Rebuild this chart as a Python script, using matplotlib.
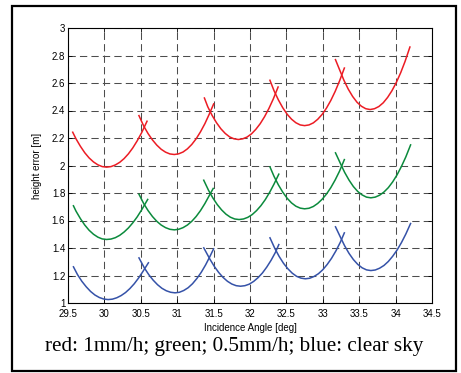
import matplotlib
matplotlib.use("Agg")
import matplotlib.pyplot as plt
from matplotlib.patches import Rectangle

# x positions of each arc (five arcs per colour)
red_x = [
    [29.56, 29.61, 29.67, 29.73, 29.79, 29.85, 29.91, 29.97, 30.03, 30.09, 30.15, 30.21, 30.27, 30.33, 30.39, 30.45, 30.51, 30.59],
    [30.47, 30.54, 30.60, 30.66, 30.72, 30.78, 30.84, 30.90, 30.96, 31.02, 31.08, 31.14, 31.20, 31.26, 31.32, 31.38, 31.44, 31.505],
    [31.37, 31.42, 31.48, 31.54, 31.60, 31.66, 31.72, 31.78, 31.84, 31.90, 31.96, 32.02, 32.08, 32.14, 32.20, 32.26, 32.32, 32.39],
    [32.27, 32.33, 32.39, 32.45, 32.51, 32.57, 32.63, 32.69, 32.75, 32.81, 32.87, 32.93, 32.99, 33.05, 33.11, 33.17, 33.23, 33.30],
    [33.17, 33.23, 33.29, 33.35, 33.41, 33.47, 33.53, 33.59, 33.65, 33.71, 33.77, 33.83, 33.89, 33.95, 34.01, 34.07, 34.13, 34.20],
]
red_y = [
    [2.247, 2.194, 2.140, 2.093, 2.055, 2.026, 2.005, 1.992, 1.988, 1.992, 2.004, 2.023, 2.050, 2.085, 2.128, 2.179, 2.237, 2.327],
    [2.368, 2.287, 2.232, 2.186, 2.148, 2.118, 2.097, 2.084, 2.080, 2.085, 2.098, 2.121, 2.153, 2.194, 2.245, 2.304, 2.373, 2.453],
    [2.496, 2.427, 2.364, 2.311, 2.267, 2.233, 2.208, 2.194, 2.189, 2.194, 2.207, 2.230, 2.263, 2.304, 2.355, 2.415, 2.484, 2.576],
    [2.625, 2.544, 2.477, 2.420, 2.373, 2.337, 2.311, 2.295, 2.290, 2.295, 2.310, 2.336, 2.371, 2.417, 2.473, 2.539, 2.615, 2.714],
    [2.775, 2.697, 2.620, 2.555, 2.502, 2.460, 2.431, 2.413, 2.407, 2.413, 2.429, 2.456, 2.495, 2.544, 2.604, 2.675, 2.757, 2.867],
]

green_x = [
    [29.57, 29.61, 29.67, 29.73, 29.79, 29.85, 29.91, 29.97, 30.03, 30.09, 30.15, 30.21, 30.27, 30.33, 30.39, 30.45, 30.51, 30.60],
    [30.47, 30.54, 30.60, 30.66, 30.72, 30.78, 30.84, 30.90, 30.96, 31.02, 31.08, 31.14, 31.20, 31.26, 31.32, 31.38, 31.44, 31.50],
    [31.36, 31.43, 31.49, 31.55, 31.61, 31.67, 31.73, 31.79, 31.85, 31.91, 31.97, 32.03, 32.09, 32.15, 32.21, 32.27, 32.33, 32.40],
    [32.27, 32.33, 32.39, 32.45, 32.51, 32.57, 32.63, 32.69, 32.75, 32.81, 32.87, 32.93, 32.99, 33.05, 33.11, 33.17, 33.23, 33.30],
    [33.17, 33.24, 33.30, 33.36, 33.42, 33.48, 33.54, 33.60, 33.66, 33.72, 33.78, 33.84, 33.90, 33.96, 34.02, 34.08, 34.14, 34.21],
]
green_y = [
    [1.712, 1.668, 1.614, 1.567, 1.529, 1.500, 1.479, 1.466, 1.462, 1.465, 1.475, 1.492, 1.516, 1.546, 1.583, 1.626, 1.676, 1.758],
    [1.796, 1.723, 1.672, 1.629, 1.594, 1.567, 1.548, 1.536, 1.532, 1.536, 1.548, 1.567, 1.594, 1.629, 1.672, 1.723, 1.781, 1.838],
    [1.898, 1.820, 1.764, 1.716, 1.677, 1.646, 1.624, 1.611, 1.607, 1.611, 1.623, 1.643, 1.672, 1.708, 1.752, 1.805, 1.865, 1.942],
    [1.995, 1.921, 1.859, 1.806, 1.762, 1.728, 1.704, 1.690, 1.685, 1.689, 1.702, 1.724, 1.754, 1.792, 1.839, 1.895, 1.959, 2.048],
    [2.097, 2.017, 1.950, 1.894, 1.847, 1.811, 1.786, 1.770, 1.765, 1.770, 1.784, 1.807, 1.839, 1.881, 1.932, 1.993, 2.062, 2.155],
]

blue_x = [
    [29.57, 29.63, 29.69, 29.75, 29.81, 29.87, 29.93, 29.99, 30.05, 30.11, 30.17, 30.23, 30.29, 30.35, 30.41, 30.47, 30.53, 30.61],
    [30.47, 30.55, 30.61, 30.67, 30.73, 30.79, 30.85, 30.91, 30.97, 31.03, 31.09, 31.15, 31.21, 31.27, 31.33, 31.39, 31.45, 31.505],
    [31.36, 31.45, 31.51, 31.57, 31.63, 31.69, 31.75, 31.81, 31.87, 31.93, 31.99, 32.05, 32.11, 32.17, 32.23, 32.29, 32.35, 32.40],
    [32.27, 32.34, 32.40, 32.46, 32.52, 32.58, 32.64, 32.70, 32.76, 32.82, 32.88, 32.94, 33.00, 33.06, 33.12, 33.18, 33.24, 33.30],
    [33.17, 33.24, 33.30, 33.36, 33.42, 33.48, 33.54, 33.60, 33.66, 33.72, 33.78, 33.84, 33.90, 33.96, 34.02, 34.08, 34.14, 34.21],
]
blue_y = [
    [1.268, 1.207, 1.158, 1.118, 1.084, 1.058, 1.040, 1.029, 1.025, 1.028, 1.038, 1.054, 1.076, 1.105, 1.140, 1.182, 1.230, 1.297],
    [1.333, 1.254, 1.206, 1.166, 1.133, 1.107, 1.089, 1.078, 1.074, 1.078, 1.091, 1.111, 1.140, 1.178, 1.223, 1.277, 1.339, 1.399],
    [1.406, 1.318, 1.266, 1.222, 1.186, 1.158, 1.138, 1.126, 1.122, 1.126, 1.137, 1.157, 1.184, 1.218, 1.261, 1.311, 1.369, 1.430],
    [1.479, 1.398, 1.339, 1.289, 1.249, 1.217, 1.194, 1.181, 1.176, 1.180, 1.193, 1.213, 1.242, 1.280, 1.325, 1.379, 1.441, 1.515],
    [1.559, 1.481, 1.416, 1.361, 1.316, 1.281, 1.256, 1.241, 1.236, 1.240, 1.253, 1.273, 1.302, 1.340, 1.385, 1.439, 1.501, 1.583],
]

x_ticks = [29.5, 30, 30.5, 31, 31.5, 32, 32.5, 33, 33.5, 34, 34.5]
x_tick_labels = ["29.5", "30", "30.5", "31", "31.5", "32", "32.5", "33", "33.5", "34", "34.5"]
y_ticks = [1, 1.2, 1.4, 1.6, 1.8, 2, 2.2, 2.4, 2.6, 2.8, 3]
y_tick_labels = ["1", "1.2", "1.4", "1.6", "1.8", "2", "2.2", "2.4", "2.6", "2.8", "3"]

caption = "red: 1mm/h; green; 0.5mm/h; blue: clear sky"

plt.rcParams["font.family"] = ["Liberation Sans", "DejaVu Sans"]

fig = plt.figure(figsize=(4.61, 3.73), dpi=100)
ax = fig.add_axes([68 / 461, 1 - 303 / 373, (432 - 68) / 461, (303 - 28) / 373])

series = [(red_x, red_y, "#ec1c24"), (green_x, green_y, "#0b8a3c"), (blue_x, blue_y, "#3552a8")]
for xs, ys, col in series:
    for sx, sy in zip(xs, ys):
        ax.plot(sx, sy, color=col, lw=1.1, solid_capstyle="butt", zorder=3)

ax.set_xlim(29.5, 34.5)
ax.set_ylim(1, 3)
ax.set_xticks(x_ticks)
ax.set_xticklabels(x_tick_labels)
ax.set_yticks(y_ticks)
ax.set_yticklabels(y_tick_labels)
ax.tick_params(direction="in", length=3, width=0.6, labelsize=7, pad=2,
               top=True, right=True)
ax.tick_params(axis="x", pad=4)
ax.grid(True, color="0.3", lw=0.75, linestyle=(0, (7, 4)))
for sp in ax.spines.values():
    sp.set_linewidth(0.8)
ax.set_xlabel("Incidence Angle [deg]", fontsize=7, labelpad=3)
ax.set_ylabel("height error [m]", fontsize=7, labelpad=7)

# outer frame and caption
fig.patches.append(Rectangle((12 / 461, 1 - 371 / 373), (456 - 12) / 461, (371 - 6) / 373,
                             transform=fig.transFigure, fill=False, lw=1.6, ec="black"))
fig.text(234 / 461, 1 - 347 / 373, caption, ha="center", va="center",
         fontsize=15.2, family="Liberation Serif")

fig.savefig("out.png", dpi=100)
